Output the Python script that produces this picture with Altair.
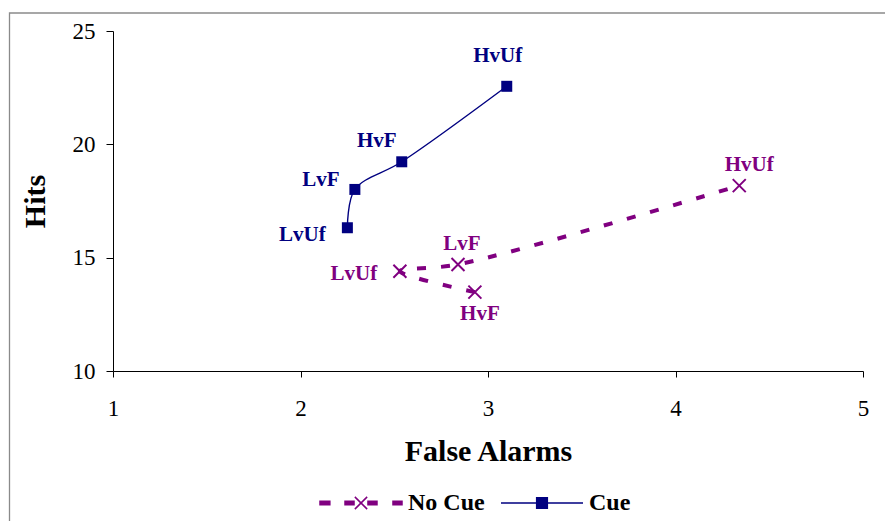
import altair as alt
import pandas as pd

# Conditions and the two series (False Alarms on x, Hits on y)
conditions = ["LvUf", "LvF", "HvF", "HvUf"]
cue_false_alarms = [2.25, 2.29, 2.54, 3.10]
cue_hits = [16.32, 18.01, 19.23, 22.56]
nocue_false_alarms = [2.53, 2.84, 2.93, 4.34]
nocue_hits = [14.40, 14.70, 13.48, 18.18]

# Sequence in which each series' line visits the conditions
cue_path_order = [0, 1, 2, 3]
nocue_path_order = [1, 2, 0, 3]

series_names = ["No Cue", "Cue"]
x_ticks = [1, 2, 3, 4, 5]
y_ticks = [10, 15, 20, 25]

# Label nudges (pixels) for the point annotations
cue_label_dx = [-45, -34, -25, -9]
cue_label_dy = [7, -9, -21, -30]
nocue_label_dx = [-46, 4, 5, 10]
nocue_label_dy = [3, -20, 22, -21]

NAVY = "#000080"
PURPLE = "#800080"
FONT = "Liberation Serif"

rows = []
for i, c in enumerate(conditions):
    rows.append({"series": "Cue", "condition": c, "fa": cue_false_alarms[i],
                 "hits": cue_hits[i], "step": cue_path_order[i]})
    rows.append({"series": "No Cue", "condition": c, "fa": nocue_false_alarms[i],
                 "hits": nocue_hits[i], "step": nocue_path_order[i]})
df = pd.DataFrame(rows)

x_enc = alt.X("fa:Q", scale=alt.Scale(domain=[1, 5], nice=False, zero=False),
              axis=alt.Axis(values=x_ticks, format="d", title="False Alarms"))
y_enc = alt.Y("hits:Q", scale=alt.Scale(domain=[10, 25], nice=False, zero=False),
              axis=alt.Axis(values=y_ticks, format="d", title="Hits"))

base = alt.Chart(df)

# Gray frame around the whole figure
frame = alt.Chart(pd.DataFrame({"k": [0]})).mark_rect(
    fill="transparent", stroke="#8a8a8a", strokeWidth=1.3
).encode(x=alt.value(-103.5), x2=alt.value(900), y=alt.value(-18), y2=alt.value(600))

cue_line = base.transform_filter(alt.datum.series == "Cue").mark_line(
    interpolate="catmull-rom", color=NAVY, strokeWidth=1.4
).encode(x=x_enc, y=y_enc, order="step:Q")

nocue_line = base.transform_filter(alt.datum.series == "No Cue").mark_line(
    interpolate="catmull-rom", color=PURPLE, strokeWidth=4, strokeDash=[9, 15]
).encode(x=x_enc, y=y_enc, order="step:Q")

cue_points = base.transform_filter(alt.datum.series == "Cue").mark_point(
    shape="square", filled=True, size=121, color=NAVY, opacity=1
).encode(x=x_enc, y=y_enc)

cross_path = "M-1,-1L1,1M-1,1L1,-1"
nocue_points = base.transform_filter(alt.datum.series == "No Cue").mark_point(
    shape=cross_path, filled=False, size=169, color=PURPLE, strokeWidth=2, opacity=1
).encode(x=x_enc, y=y_enc)

# Legend swatches: dashed line with a cross, solid line with a square
nocue_swatch = ("M-1,-0.04H-0.76V0.04H-1Z M-0.39,-0.04H-0.17V0.04H-0.39Z "
                "M0.17,-0.04H0.39V0.04H0.17Z M0.78,-0.04H1V0.04H0.78Z "
                "M-0.15,-0.15L0.15,0.15M-0.15,0.15L0.15,-0.15")
cue_swatch = "M-1,0H1M-0.13,-0.13H0.13V0.13H-0.13Z"

legend = alt.Legend(
    title=None, orient="none", legendX=206, legendY=430, direction="horizontal",
    symbolSize=6724, symbolStrokeWidth=1.5, symbolOpacity=1,
    labelFont=FONT, labelFontSize=24, labelFontWeight="bold", labelColor="black",
    labelOffset=5, columnPadding=13, padding=0,
)
colour_scale = alt.Scale(domain=series_names, range=[PURPLE, NAVY])
legend_layer = base.mark_point(filled=True, opacity=0).encode(
    x=x_enc, y=y_enc,
    color=alt.Color("series:N", scale=colour_scale, legend=legend),
    stroke=alt.Stroke("series:N", scale=colour_scale, legend=legend),
    shape=alt.Shape("series:N", scale=alt.Scale(domain=series_names,
                                                  range=[nocue_swatch, cue_swatch]),
                    legend=legend),
)

# Condition labels next to each point
label_layers = []
for i, c in enumerate(conditions):
    for name, colour, dxs, dys in (("Cue", NAVY, cue_label_dx, cue_label_dy),
                                   ("No Cue", PURPLE, nocue_label_dx, nocue_label_dy)):
        label_layers.append(
            base.transform_filter((alt.datum.series == name) & (alt.datum.condition == c))
            .mark_text(font=FONT, fontSize=21, fontWeight="bold", color=colour,
                       align="center", baseline="middle", dx=dxs[i], dy=dys[i])
            .encode(x=x_enc, y=y_enc, text="condition:N")
        )

chart = alt.layer(
    frame, nocue_line, cue_line, nocue_points, cue_points, legend_layer, *label_layers
).properties(
    width=750, height=340,
    padding={"left": 113, "top": 31, "right": 22, "bottom": 150},
    autosize=alt.AutoSizeParams(type="none"),
    background="white",
).configure_view(stroke=None).configure_axis(
    grid=False, domainColor="black", domainWidth=1, tickColor="black", tickWidth=1,
    labelFont=FONT, labelFontSize=23, labelColor="black", labelFlush=False,
    titleFont=FONT, titleFontSize=30, titleFontWeight="bold", titleColor="black",
).configure_axisX(
    tickSize=6, labelPadding=20, titlePadding=16,
).configure_axisY(
    tickSize=7, labelPadding=11, titlePadding=22,
)

chart.save("out.html", embed_options={"renderer": "svg", "actions": False})
